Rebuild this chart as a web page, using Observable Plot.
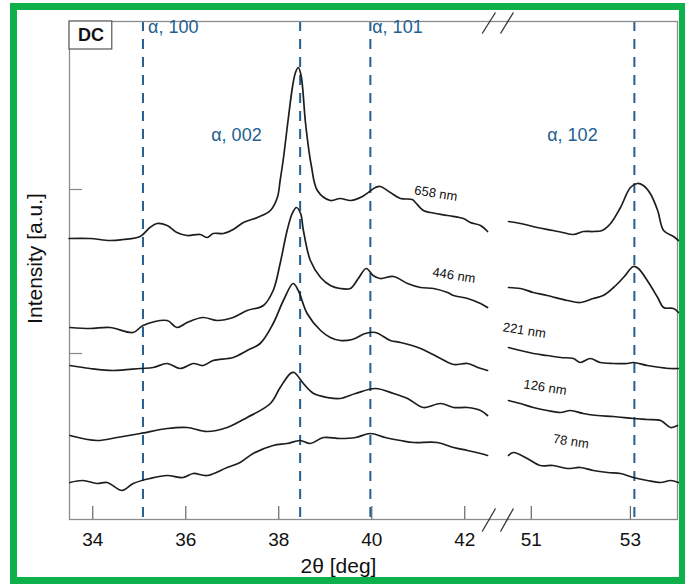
<!DOCTYPE html>
<html><head><meta charset="utf-8">
<script src="https://cdn.jsdelivr.net/npm/d3@7"></script>
<script src="https://cdn.jsdelivr.net/npm/@observablehq/plot@0.6"></script>
<style>
body{margin:0;background:#fff;}
#wrap{position:relative;width:685px;height:586px;overflow:hidden;font-family:"Liberation Sans",Arial,sans-serif;background:#fff;}
.g{position:absolute;background:#0db04b;}
#chart{position:absolute;left:0;top:0;}
</style></head><body>
<div id="wrap">
  <div id="chart"></div>
  <div class="g" style="left:10px;top:3px;width:675px;height:7px"></div>
  <div class="g" style="left:10px;top:3px;width:7px;height:581px"></div>
  <div class="g" style="left:10px;top:577px;width:675px;height:7px"></div>
  <div class="g" style="left:679px;top:3px;width:6px;height:581px"></div>
</div>
<script>
// ---- data (2θ in degrees, intensity in arbitrary units) ----
const xTicks = [34, 36, 38, 40, 42, 51, 53];
const yTicks = [167, 331];
const peakPos = [35.08, 38.46, 39.97, 53.08];
const topPeakNames = ["α, 100", "α, 101"];
const topPeakX = [35.19, 40.01];
const topPeakY = [493, 493];
const midPeakNames = ["α, 002", "α, 102"];
const midPeakX = [37.09, 51.83];
const midPeakY = [385, 385];
const sampleNames = ["658 nm", "446 nm", "221 nm", "126 nm", "78 nm"];
const sampleLabelX = [41.38, 41.77, 50.86, 51.28, 51.80];
const sampleLabelY = [327, 245, 190, 133, 79];

const s658L = [[33.49,282],[33.94,282],[34.37,280],[34.65,281],[35.02,284],[35.23,293],[35.38,297],[35.60,295],[35.81,288],[36.03,285],[36.31,286],[36.46,283],[36.59,287],[36.81,287],[37.02,291],[37.24,298],[37.54,303],[37.82,310],[37.97,323],[38.03,340],[38.10,362],[38.20,400],[38.30,435],[38.36,448],[38.42,453],[38.48,445],[38.57,400],[38.62,380],[38.70,355],[38.83,330],[39.11,320],[39.32,322],[39.55,320],[39.80,324],[40.08,333],[40.18,334],[40.40,328],[40.62,322],[40.87,321],[40.94,318],[41.11,310],[41.26,308],[41.63,305],[41.97,302],[42.12,298],[42.34,295],[42.49,289]];
const s658R = [[50.54,299],[50.78,297],[51.12,293],[51.44,290],[51.63,288],[51.85,286],[52.05,289],[52.25,289],[52.43,290],[52.60,297],[52.80,313],[53.00,333],[53.14,337],[53.26,335],[53.40,327],[53.55,310],[53.67,290],[53.87,284],[53.97,280]];
const s446L = [[33.51,193],[33.94,192],[34.37,193],[34.87,188],[35.08,195],[35.60,200],[35.81,193],[36.03,198],[36.37,203],[36.68,200],[37.02,203],[37.32,210],[37.67,215],[37.88,230],[38.03,257],[38.18,290],[38.29,307],[38.38,313],[38.47,307],[38.53,290],[38.68,260],[38.90,243],[39.11,235],[39.32,232],[39.54,232],[39.71,242],[39.88,252],[40.03,245],[40.18,242],[40.47,244],[40.77,237],[41.05,233],[41.33,232],[41.63,228],[41.76,225],[42.06,222],[42.34,217],[42.49,213]];
const s446R = [[50.54,233],[50.78,232],[51.04,228],[51.32,225],[51.73,220],[51.99,218],[52.25,222],[52.45,225],[52.66,233],[52.86,243],[53.06,254],[53.16,252],[53.34,240],[53.55,223],[53.67,213],[53.87,212],[53.97,208]];
const s221L = [[33.51,155],[33.94,152],[34.44,150],[35.02,152],[35.30,153],[35.60,157],[35.88,152],[36.16,157],[36.37,155],[36.59,160],[37.02,163],[37.32,170],[37.60,177],[37.88,197],[38.10,220],[38.31,237],[38.42,230],[38.61,207],[38.90,190],[39.11,183],[39.32,180],[39.58,181],[39.86,187],[40.08,188],[40.40,180],[40.62,178],[41.05,172],[41.48,162],[41.76,156],[42.06,157],[42.28,153],[42.49,150]];
const s221R = [[50.54,173],[50.78,170],[51.04,167],[51.32,165],[51.59,163],[51.85,162],[51.99,158],[52.19,162],[52.39,158],[52.66,157],[52.94,157],[53.06,158],[53.34,155],[53.61,153],[53.81,152],[53.97,152]];
const s126L = [[33.51,85],[34.09,80],[34.52,83],[35.02,87],[35.60,92],[36.03,93],[36.46,89],[36.89,93],[37.32,103],[37.82,117],[38.03,133],[38.25,147],[38.33,148],[38.40,145],[38.53,137],[38.75,127],[39.05,123],[39.32,122],[39.65,127],[40.08,132],[40.47,127],[40.77,122],[41.11,113],[41.48,117],[41.76,113],[42.06,113],[42.34,110],[42.49,105]];
const s126R = [[50.54,120],[50.78,117],[51.04,113],[51.32,110],[51.59,108],[51.79,110],[52.05,107],[52.33,105],[52.66,104],[53.06,102],[53.34,101],[53.61,100],[53.81,93],[53.95,95]];
const s78L = [[33.51,38],[33.79,40],[34.09,37],[34.31,38],[34.63,30],[34.87,37],[35.23,42],[35.60,45],[35.94,43],[36.16,47],[36.46,45],[36.89,53],[37.17,58],[37.45,67],[37.88,75],[38.18,77],[38.46,80],[38.68,77],[38.96,83],[39.32,82],[39.65,83],[39.97,87],[40.29,83],[40.62,80],[40.90,78],[41.41,78],[41.76,73],[42.06,70],[42.34,67],[42.49,65]];
const s78R = [[50.54,65],[50.64,68],[50.92,62],[51.18,55],[51.44,55],[51.73,52],[51.99,53],[52.25,50],[52.54,48],[52.80,47],[53.06,43],[53.34,40],[53.61,38],[53.81,40],[53.97,38]];

const segments = [
  ["658L", s658L], ["658R", s658R], ["446L", s446L], ["446R", s446R],
  ["221L", s221L], ["221R", s221R], ["126L", s126L], ["126R", s126R],
  ["78L", s78L], ["78R", s78R]
];
const rows = segments.flatMap(([key, pts]) => pts.map(([x, y]) => ({key, x, y})));
const topLabels = topPeakNames.map((t, i) => ({t, x: topPeakX[i], y: topPeakY[i]}));
const midLabels = midPeakNames.map((t, i) => ({t, x: midPeakX[i], y: midPeakY[i]}));
const sampleLabels = sampleNames.map((t, i) => ({t, x: sampleLabelX[i], y: sampleLabelY[i]}));
// axis-break marks (in data coordinates of the broken scale)
const breaks = [
  {x1: 42.375, y1: -11, x2: 45.74, y2: 12}, {x1: 47.9, y1: -11, x2: 50.64, y2: 12},
  {x1: 42.375, y1: 487, x2: 45.74, y2: 508}, {x1: 47.9, y1: 487, x2: 50.64, y2: 508}
];

const blue = "#235f92";
const chart = Plot.plot({
  width: 685, height: 586,
  marginLeft: 69, marginRight: 8, marginTop: 21, marginBottom: 67,
  x: {type: "linear", domain: [33.5, 42.5, 50.5, 53.95], range: [69, 487.5, 506, 677], axis: null},
  y: {type: "linear", domain: [1, 499], axis: null},
  style: {fontFamily: "'Liberation Sans', Arial, sans-serif", background: "transparent", overflow: "visible"},
  marks: [
    Plot.ruleX(peakPos, {stroke: blue, strokeWidth: 2, strokeDasharray: "10,8"}),
    Plot.frame({stroke: "#8c8c8c", strokeWidth: 1.3}),
    Plot.ruleX(xTicks, {y1: 1, y2: 14, stroke: "#666", strokeWidth: 1.2}),
    Plot.ruleY(yTicks, {x1: 33.5, x2: 33.78, stroke: "#888", strokeWidth: 1.2}),
    Plot.axisX({ticks: xTicks, tickSize: 0, tickPadding: 13, fontSize: 19, label: null, tickFormat: d => String(d), color: "#111"}),
    Plot.line(rows, {x: "x", y: "y", z: "key", curve: "catmull-rom", stroke: "#1d1d1d", strokeWidth: 1.7}),
    Plot.text(topLabels, {x: "x", y: "y", text: "t", textAnchor: "start", fill: blue, fontSize: 18}),
    Plot.text(midLabels, {x: "x", y: "y", text: "t", textAnchor: "middle", fill: blue, fontSize: 18}),
    Plot.text(sampleLabels, {x: "x", y: "y", text: "t", rotate: 9, fill: "#111", fontSize: 13}),
    Plot.link(breaks, {x1: "x1", y1: "y1", x2: "x2", y2: "y2", stroke: "#333", strokeWidth: 1.3, clip: false}),
    Plot.rect([0], {x1: 33.5, x2: 34.42, y1: 471, y2: 499, fill: "white", stroke: "#555", strokeWidth: 1.2}),
    Plot.text(["DC"], {x: 33.96, y: 485, fontSize: 18, fontWeight: "bold", fill: "#111"}),
    Plot.text(["2θ [deg]"], {frameAnchor: "bottom", dx: -35, dy: 53, fontSize: 21, fill: "#111"}),
    Plot.text(["Intensity [a.u.]"], {frameAnchor: "left", textAnchor: "middle", rotate: -90, dx: -34, dy: -12, fontSize: 21, fill: "#111"})
  ]
});
document.getElementById("chart").appendChild(chart);
</script>
</body></html>
